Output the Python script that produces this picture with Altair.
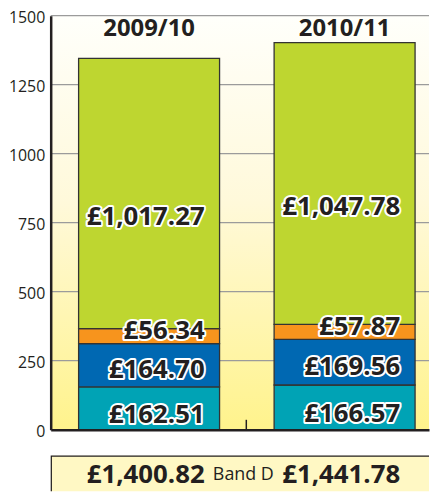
import altair as alt
import pandas as pd

# ---- data ----
years = ["2009/10", "2010/11"]
series = ["Part A", "Part B", "Part C", "Part D"]          # bottom -> top
colors = ["#00A3B5", "#0068B2", "#F7941D", "#BED630"]
heights_2009 = [155, 157, 54, 979]     # drawn segment heights
heights_2010 = [162, 165, 55, 1020]
labels_2009 = [162.51, 164.70, 56.34, 1017.27]   # printed values (£)
labels_2010 = [166.57, 169.56, 57.87, 1047.78]
y_ticks = [0, 250, 500, 750, 1000, 1250, 1500]
middle_label = "Band D"

W, H, PH = 381, 417, 36
FONT = "Open Sans"
INK = "#231F20"

rows = []
for yr, hs, ls in [(years[0], heights_2009, labels_2009), (years[1], heights_2010, labels_2010)]:
    s = 0
    for name, h, lab in zip(series, hs, ls):
        rows.append({"year": yr, "series": name, "start": s, "end": s + h,
                     "mid": s + h / 2, "label": f"£{lab:,.2f}"})
        s += h
df = pd.DataFrame(rows)
totals = pd.DataFrame({"year": years,
                       "total": [f"£{sum(labels_2009):,.2f}", f"£{sum(labels_2010):,.2f}"]})
years_df = pd.DataFrame({"year": years})
grid_df = pd.DataFrame({"v": y_ticks[1:]})
one = pd.DataFrame({"a": [0]})

xscale = alt.Scale(type="band", domain=years, paddingInner=0.279, paddingOuter=0.107, align=0.667)
x_enc = alt.X("year:N", scale=xscale,
              axis=alt.Axis(labels=False, ticks=False, title=None, domainColor=INK,
                            domainWidth=2.5, zindex=2))
yscale = alt.Scale(domain=[0, 1500], nice=False)

bg = alt.Chart(one).mark_rect(
    color=alt.LinearGradient(gradient="linear", x1=0, y1=0, x2=0, y2=1,
                             stops=[alt.GradientStop(color="#FFFFFB", offset=0),
                                    alt.GradientStop(color="#FFF9DA", offset=0.45),
                                    alt.GradientStop(color="#FFF38C", offset=1)])
).encode(x=alt.value(0), x2=alt.value(W), y=alt.value(0), y2=alt.value(H))

grid = alt.Chart(grid_df).mark_rule(color="#9B9B9B", strokeWidth=1.2).encode(
    y=alt.Y("v:Q", scale=yscale,
            axis=alt.Axis(values=y_ticks, format="d", grid=False, ticks=False, title=None,
                          labelFont=FONT, labelFontSize=16, labelColor=INK, labelOffset=2,
                          labelPadding=6, domainColor=INK, domainWidth=2.5, zindex=2)),
    x=alt.value(0), x2=alt.value(W))

bars = alt.Chart(df).mark_bar(stroke="#333333", strokeWidth=1.3).encode(
    x=x_enc,
    y=alt.Y("start:Q", scale=yscale),
    y2="end:Q",
    color=alt.Color("series:N", scale=alt.Scale(domain=series, range=colors), legend=None))

mid_tick = alt.Chart(one).mark_rule(color=INK, strokeWidth=1.5).encode(
    x=alt.value(197), y=alt.value(H - 10), y2=alt.value(H))

label_layers = []
dys = [7, 5, -5, 24]
for name, dy in zip(series, dys):
    base = alt.Chart(df).transform_filter(alt.datum.series == name)
    enc = dict(x=alt.X("year:N", scale=xscale), y=alt.Y("mid:Q", scale=yscale), text="label:N")
    halo = base.mark_text(align="right", baseline="middle", dx=56, dy=dy, font=FONT,
                          fontSize=26, fontWeight="bold", fill="white", stroke="white",
                          strokeWidth=4, strokeJoin="round").encode(**enc)
    txt = base.mark_text(align="right", baseline="middle", dx=56, dy=dy, font=FONT,
                         fontSize=26, fontWeight="bold", color=INK).encode(**enc)
    label_layers += [halo, txt]

year_text = alt.Chart(years_df).mark_text(font=FONT, fontSize=24, fontWeight="bold",
                                          color=INK, baseline="middle").encode(
    x=alt.X("year:N", scale=xscale), y=alt.value(13.5), text="year:N")

main = alt.layer(bg, grid, bars, mid_tick, *label_layers, year_text).properties(width=W, height=H)

panel_bg = alt.Chart(one).mark_rect(fill="#FFF8C4", stroke=INK, strokeWidth=2.5, clip=True).encode(
    x=alt.value(0), x2=alt.value(W + 6), y=alt.value(0), y2=alt.value(PH + 10))
panel_tot = alt.Chart(totals).mark_text(align="right", baseline="middle", dx=56, font=FONT,
                                        fontSize=26, fontWeight="bold", color=INK).encode(
    x=alt.X("year:N", scale=xscale, axis=None), y=alt.value(20), text="total:N")
panel_mid = alt.Chart(pd.DataFrame({"t": [middle_label]})).mark_text(
    font=FONT, fontSize=18, color=INK, baseline="middle").encode(
    x=alt.value(194), y=alt.value(20), text="t:N")
panel = alt.layer(panel_bg, panel_tot, panel_mid).properties(width=W, height=PH)

chart = alt.vconcat(main, panel, spacing=16).configure_view(stroke=None).properties(padding=0)

chart.save("out.html", embed_options={"renderer": "svg", "actions": False})
